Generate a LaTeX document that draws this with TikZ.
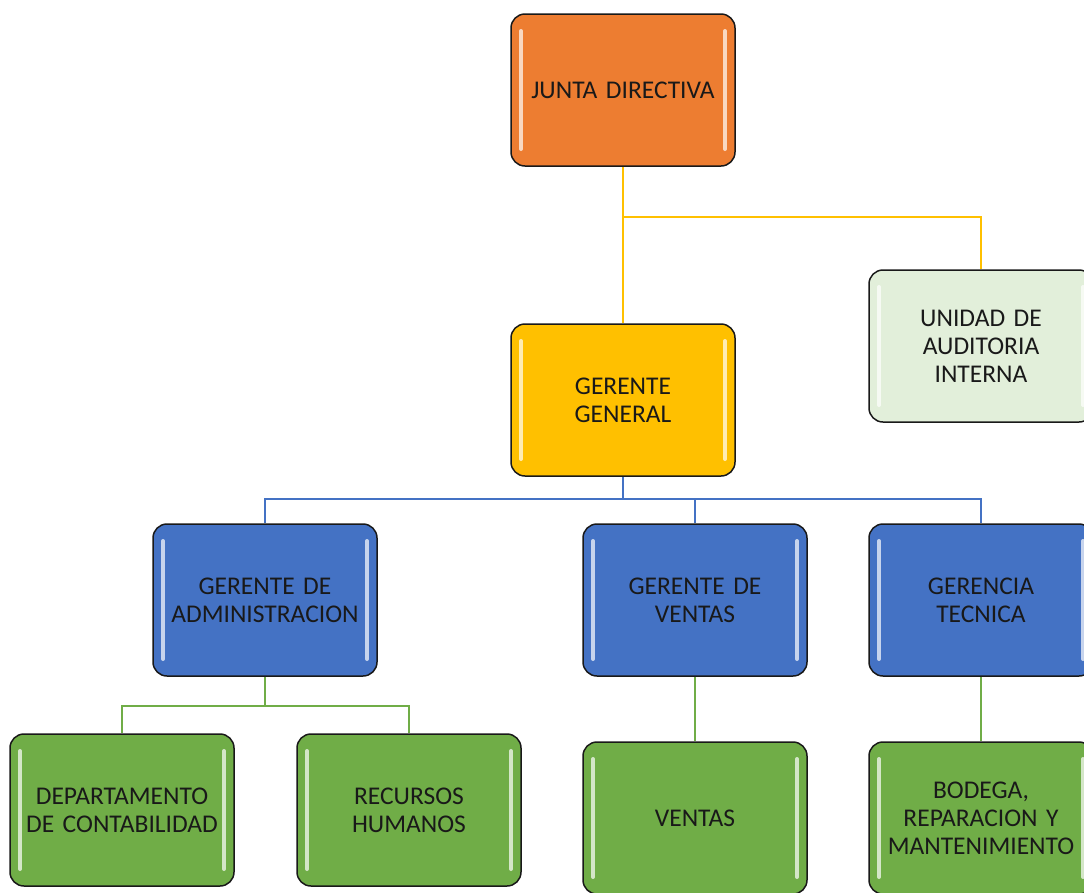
\documentclass[tikz,border=0pt]{standalone}
\usepackage{fontspec}
\setmainfont{Carlito}
\usepackage{xcolor}
\definecolor{juntaOrange}{HTML}{ED7D31}
\definecolor{gerenteGold}{HTML}{FFC000}
\definecolor{auditGreen}{HTML}{E2EFDA}
\definecolor{areaBlue}{HTML}{4472C4}
\definecolor{deptGreen}{HTML}{70AD47}

\begin{document}
\begin{tikzpicture}
[x=1pt, y=-1pt,
 lineDecorate/.style={line width=1.8pt},
 boxDecorate/.style={shape=rectangle, rounded corners=14pt, draw=black!90, line width=1.5pt,
   minimum width=224pt, minimum height=152pt, text width=216pt, align=center,
   font=\fontsize{25.5}{28}\selectfont, text=black!90,
   path picture={
     \draw[white, opacity=0.7, line width=4pt, line cap=round]
       ([xshift=10pt,yshift=-17pt]path picture bounding box.north west) --
       ([xshift=10pt,yshift=17pt]path picture bounding box.south west);
     \draw[white, opacity=0.7, line width=4pt, line cap=round]
       ([xshift=-10pt,yshift=-17pt]path picture bounding box.north east) --
       ([xshift=-10pt,yshift=17pt]path picture bounding box.south east);
   }}]

 \clip (0,0) rectangle (1084,892);

 \node (junta) at (623,90) [boxDecorate, fill=juntaOrange] {JUNTA DIRECTIVA};
 \node (unidad) at (981,346) [boxDecorate, fill=auditGreen] {UNIDAD DE\\AUDITORIA\\INTERNA};
 \node (general) at (623,400) [boxDecorate, fill=gerenteGold] {GERENTE\\GENERAL};

 \node (admin) at (265,600) [boxDecorate, fill=areaBlue] {GERENTE DE\\ADMINISTRACION};
 \node (gventas) at (695,600) [boxDecorate, fill=areaBlue] {GERENTE DE\\VENTAS};
 \node (tecnica) at (981,600) [boxDecorate, fill=areaBlue] {GERENCIA\\TECNICA};

 \node (conta) at (122,810) [boxDecorate, fill=deptGreen] {DEPARTAMENTO\\DE CONTABILIDAD};
 \node (rrhh) at (409,810) [boxDecorate, fill=deptGreen] {RECURSOS\\HUMANOS};
 \node (ventas) at (695,818) [boxDecorate, fill=deptGreen] {VENTAS};
 \node (bodega) at (981,818) [boxDecorate, fill=deptGreen] {BODEGA,\\REPARACION Y\\MANTENIMIENTO};

 \coordinate (yellowJoin) at (623,217);
 \coordinate (blueJoin) at (623,499);
 \coordinate (greenJoin) at (265,706);

 \draw[lineDecorate, draw=gerenteGold] (junta) -- (general);
 \draw[lineDecorate, draw=gerenteGold] (yellowJoin) -| (unidad.north);

 \draw[lineDecorate, draw=areaBlue] (general) -- (blueJoin);
 \foreach \n in {admin,gventas,tecnica}
   \draw[lineDecorate, draw=areaBlue] (blueJoin) -| (\n.north);

 \draw[lineDecorate, draw=deptGreen] (admin) -- (greenJoin);
 \foreach \n in {conta,rrhh}
   \draw[lineDecorate, draw=deptGreen] (greenJoin) -| (\n.north);
 \draw[lineDecorate, draw=deptGreen] (gventas) -- (ventas);
 \draw[lineDecorate, draw=deptGreen] (tecnica) -- (bodega);
\end{tikzpicture}
\end{document}
